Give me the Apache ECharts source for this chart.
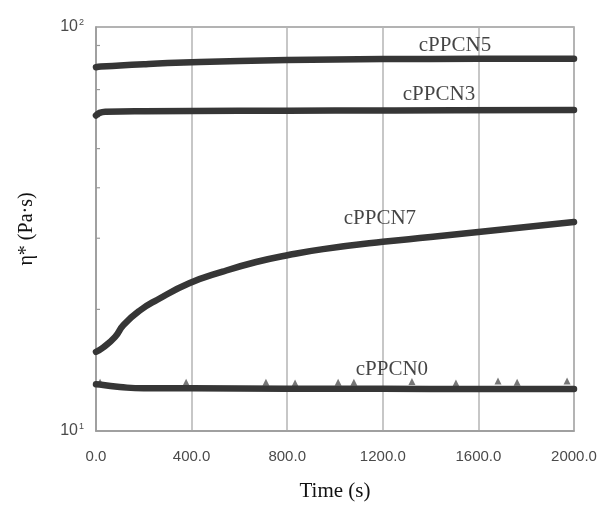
<!DOCTYPE html>
<html>
<head>
<meta charset="utf-8">
<script src="https://cdn.jsdelivr.net/npm/echarts@6/dist/echarts.min.js"></script>
<style>
  html, body { margin: 0; padding: 0; background: #fff; }
  #chart { width: 605px; height: 512px; }
</style>
</head>
<body>
<div id="chart"></div>
<script>
// Complex viscosity vs. time for the cPPCN samples (time sweep)
const cPPCN5 = [[0, 79.5], [20, 79.8], [100, 80.3], [200, 80.9], [300, 81.4], [435, 81.9],
  [600, 82.4], [800, 82.8], [1000, 83.1], [1200, 83.3], [1600, 83.4], [2000, 83.4]];
const cPPCN3 = [[0, 60.4], [15, 61.3], [40, 61.7], [200, 61.9], [600, 62.0],
  [1000, 62.1], [1500, 62.2], [2000, 62.3]];
const cPPCN7 = [[0, 15.7], [30, 16.1], [80, 17.1], [115, 18.3], [185, 19.9], [255, 21.1],
  [390, 23.2], [530, 24.8], [670, 26.2], [810, 27.3], [950, 28.2],
  [1200, 29.4], [1400, 30.2], [1600, 31.1], [1800, 32.0], [2000, 32.9]];
const cPPCN0 = [[0, 13.05], [30, 13.0], [100, 12.85], [200, 12.75], [400, 12.75],
  [800, 12.72], [1200, 12.72], [1600, 12.7], [2000, 12.7]];
// scattered points sitting on top of the cPPCN0 trace
const cPPCN0Spikes = [[17, 13.2], [377, 13.2], [711, 13.2], [833, 13.15], [1013, 13.2],
  [1079, 13.2], [1322, 13.25], [1506, 13.15], [1682, 13.3], [1762, 13.2], [1971, 13.3]];

// curve names and where they are written
const curveNames = ['cPPCN5', 'cPPCN3', 'cPPCN7', 'cPPCN0'];
const nameTimes = [1502, 1435, 1188, 1238];
const nameValues = [90.2, 67.9, 33.5, 14.16];

const xTicks = { min: 0, max: 2000, step: 400 };
const yRange = { min: 10, max: 100 };
const minorTickValues = [20, 30, 40, 50, 60, 70, 80, 90];

const lineColor = '#363636';
const frameColor = '#9a9a9a';

function traceSeries(name, data) {
  return {
    name: name,
    type: 'line',
    data: data,
    smooth: 0.5,
    showSymbol: false,
    lineStyle: { color: lineColor, width: 6.5, cap: 'round', join: 'round' },
    z: 3
  };
}

const chart = echarts.init(document.getElementById('chart'), null, { renderer: 'canvas' });

chart.setOption({
  backgroundColor: '#ffffff',
  animation: false,
  grid: {
    left: 96, right: 31, top: 27, bottom: 81,
    show: true, borderColor: frameColor, borderWidth: 1.5, backgroundColor: 'transparent'
  },
  xAxis: {
    type: 'value',
    min: xTicks.min, max: xTicks.max, interval: xTicks.step,
    name: 'Time (s)',
    nameLocation: 'middle',
    nameGap: 50,
    nameTextStyle: { fontFamily: 'Liberation Serif', fontSize: 21, color: '#111' },
    axisLine: { show: true, lineStyle: { color: frameColor, width: 1.5 } },
    axisTick: { show: false },
    axisLabel: {
      margin: 18,
      fontFamily: 'Liberation Sans', fontSize: 15, color: '#4a4a4a',
      formatter: v => v.toFixed(1)
    },
    splitLine: { show: true, lineStyle: { color: '#b4b4b4', width: 1.5 } }
  },
  yAxis: {
    type: 'log',
    logBase: 10,
    min: yRange.min, max: yRange.max,
    name: 'η* (Pa·s)',
    nameLocation: 'middle',
    nameGap: 59,
    nameRotate: 90,
    nameTextStyle: { fontFamily: 'Liberation Serif', fontSize: 20, color: '#111' },
    axisLine: { show: true, lineStyle: { color: frameColor, width: 1.5 } },
    axisTick: { show: false },
    splitLine: { show: false },
    axisLabel: {
      margin: 12,
      formatter: v => '{b|10}{s|' + Math.round(Math.log10(v)) + '}',
      rich: {
        b: { fontFamily: 'Liberation Sans', fontSize: 16, color: '#4a4a4a' },
        s: { fontFamily: 'Liberation Sans', fontSize: 9, color: '#4a4a4a', verticalAlign: 'top', padding: [0, 0, 9, 1] }
      }
    }
  },
  series: [
    traceSeries('cPPCN5', cPPCN5),
    traceSeries('cPPCN3', cPPCN3),
    traceSeries('cPPCN7', cPPCN7),
    traceSeries('cPPCN0', cPPCN0),
    {
      name: 'cPPCN0 points',
      type: 'scatter',
      data: cPPCN0Spikes,
      symbol: 'triangle',
      symbolSize: 7,
      itemStyle: { color: '#555555' },
      z: 2
    },
    {
      // small minor ticks on the inside of the left axis
      name: 'minor ticks',
      type: 'custom',
      data: minorTickValues.map(v => [xTicks.min, v]),
      renderItem: (params, api) => {
        const p = api.coord([api.value(0), api.value(1)]);
        return {
          type: 'line',
          shape: { x1: p[0], y1: p[1], x2: p[0] + 4, y2: p[1] },
          style: { stroke: frameColor, lineWidth: 1.2 }
        };
      },
      silent: true,
      z: 1
    },
    {
      name: 'curve names',
      type: 'scatter',
      data: curveNames.map((n, i) => ({ value: [nameTimes[i], nameValues[i]], name: n })),
      symbolSize: 0,
      label: {
        show: true,
        position: 'inside',
        formatter: p => p.name,
        fontFamily: 'Liberation Serif',
        fontSize: 21,
        color: '#151515'
      },
      silent: true,
      z: 4
    }
  ]
});
</script>
</body>
</html>
